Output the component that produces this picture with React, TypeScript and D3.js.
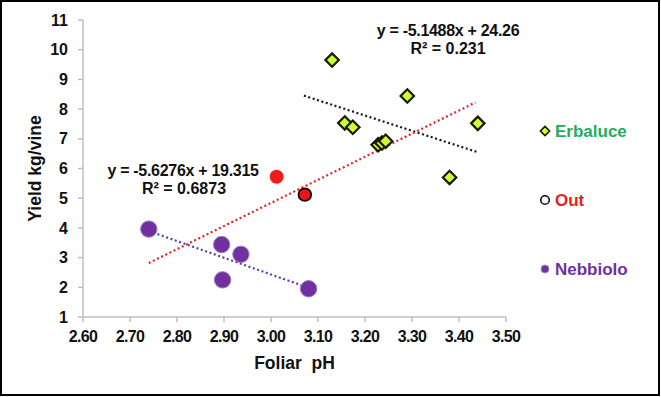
import React from "react";
import * as d3 from "d3";

// values
const erbalucePH = [3.13, 3.29, 3.157, 3.174, 3.228, 3.236, 3.244, 3.38, 3.44];
const erbaluceYield = [9.65, 8.44, 7.53, 7.39, 6.8, 6.86, 6.92, 5.7, 7.52];
const outPH = [3.012, 3.072];
const outYield = [5.72, 5.12];
const nebbioloPH = [2.74, 2.895, 2.936, 2.897, 3.08];
const nebbioloYield = [3.96, 3.44, 3.11, 2.25, 1.95];

// trend lines: slope, intercept, x range
const trendNames = ["erbaluce", "all", "nebbiolo"];
const trendSlope = [-5.1488, 7.78, -5.6276];
const trendIntercept = [24.26, -18.5, 19.315];
const trendFrom = [3.07, 2.74, 2.74];
const trendTo = [3.44, 3.435, 3.08];
const trendColor = ["#1a1a1a", "#e3242b", "#5b3fa0"];

const xTicks = [2.6, 2.7, 2.8, 2.9, 3.0, 3.1, 3.2, 3.3, 3.4, 3.5];
const yTicks = [1, 2, 3, 4, 5, 6, 7, 8, 9, 10, 11];

const legendNames = ["Erbaluce", "Out", "Nebbiolo"];
const legendColors = ["#1fae5b", "#e8201f", "#7030a0"];

const W = 661;
const H = 397;
const font = "Liberation Sans, Arial, sans-serif";

export default function App() {
  const x = d3.scaleLinear().domain([2.6, 3.5]).range([83, 506]);
  const y = d3.scaleLinear().domain([1, 11]).range([317, 20]);
  const diamond = d3.symbol().type(d3.symbolDiamond2);

  const legendY = d3.scalePoint<string>().domain(legendNames).range([131, 269]);

  return (
    <svg
      width={W}
      height={H}
      style={{ position: "absolute", left: 0, top: 0, fontFamily: font }}
    >
      <rect x={0} y={0} width={W} height={H} fill="#fff" />
      <rect x={1} y={1} width={W - 3} height={H - 3} fill="none" stroke="#000" strokeWidth={2} />

      {/* axes */}
      <g stroke="#bfbfbf" strokeWidth={1.5}>
        <line x1={x(2.6)} x2={x(2.6)} y1={y(11)} y2={y(1)} />
        <line x1={x(2.6)} x2={x(3.5)} y1={y(1)} y2={y(1)} />
        {yTicks.map((t) => (
          <line key={"yt" + t} x1={x(2.6) - 5} x2={x(2.6)} y1={y(t)} y2={y(t)} />
        ))}
        {xTicks.map((t) => (
          <line key={"xt" + t} x1={x(t)} x2={x(t)} y1={y(1)} y2={y(1) + 5} />
        ))}
      </g>
      <g fontSize={16} fontWeight="bold" fill="#111">
        {yTicks.map((t) => (
          <text key={"yl" + t} x={x(2.6) - 15} y={y(t)} dy="0.35em" textAnchor="end">
            {t}
          </text>
        ))}
        {xTicks.map((t) => (
          <text key={"xl" + t} x={x(t)} y={y(1) + 25} textAnchor="middle" letterSpacing={-0.6}>
            {t.toFixed(2)}
          </text>
        ))}
      </g>
      <text x={(x(2.6) + x(3.5)) / 2} y={369} textAnchor="middle" fontSize={17.5} fontWeight="bold" fill="#111">
        Foliar{"\u00a0\u00a0"}pH
      </text>
      <text
        transform={`translate(41,${(y(1) + y(11)) / 2}) rotate(-90)`}
        textAnchor="middle"
        fontSize={17.5}
        fontWeight="bold"
        fill="#111"
      >
        Yield kg/vine
      </text>

      {/* trend lines */}
      {trendNames.map((n, i) => (
        <line
          key={n}
          x1={x(trendFrom[i])}
          y1={y(trendSlope[i] * trendFrom[i] + trendIntercept[i])}
          x2={x(trendTo[i])}
          y2={y(trendSlope[i] * trendTo[i] + trendIntercept[i])}
          stroke={trendColor[i]}
          strokeWidth={2.2}
          strokeDasharray="2 2.6"
        />
      ))}

      {/* points */}
      {nebbioloPH.map((p, i) => (
        <circle key={"n" + i} cx={x(p)} cy={y(nebbioloYield[i])} r={8.2} fill="#7030a0" stroke="#9b7cc0" strokeWidth={1} />
      ))}
      <circle cx={x(outPH[0])} cy={y(outYield[0])} r={7} fill="#ee1c1c" />
      <circle cx={x(outPH[1])} cy={y(outYield[1])} r={6.3} fill="#e8161a" stroke="#1a0000" strokeWidth={1.8} />
      {erbalucePH.map((p, i) => (
        <path
          key={"e" + i}
          d={diamond.size(115)() as string}
          transform={`translate(${x(p)},${y(erbaluceYield[i])})`}
          fill="#ccff33"
          stroke="#1a1a00"
          strokeWidth={2.2}
        />
      ))}

      {/* equations */}
      <g fontSize={16} fontWeight="bold" fill="#111" textAnchor="middle">
        <text x={448} y={36} letterSpacing={-0.3}>y = -5.1488x + 24.26</text>
        <text x={448} y={54}>R² = 0.231</text>
        <text x={183} y={176} letterSpacing={-0.3}>y = -5.6276x + 19.315</text>
        <text x={184} y={194}>R² = 0.6873</text>
      </g>

      {/* legend */}
      <path
        d={diamond.size(55)() as string}
        transform={`translate(545,${legendY("Erbaluce")})`}
        fill="#ccff33"
        stroke="#1a1a00"
        strokeWidth={1.6}
      />
      <circle cx={545} cy={legendY("Out")} r={4.3} fill="#fff" stroke="#111" strokeWidth={1.6} />
      <circle cx={545} cy={legendY("Nebbiolo")} r={4} fill="#7030a0" stroke="#a58ac8" strokeWidth={1} />
      {legendNames.map((n, i) => (
        <text
          key={n}
          x={555}
          y={legendY(n)}
          dy="0.35em"
          fontSize={17}
          fontWeight="bold"
          fill={legendColors[i]}
        >
          {n}
        </text>
      ))}
    </svg>
  );
}
